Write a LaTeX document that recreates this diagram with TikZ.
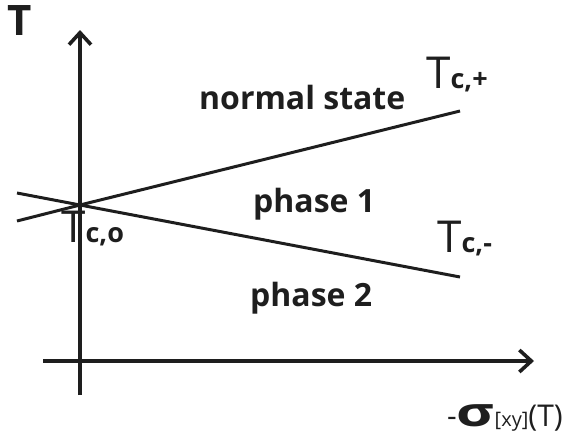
\documentclass[tikz,border=0pt]{standalone}
\usepackage{fontspec}
\setmainfont{Open Sans}
\usetikzlibrary{arrows.meta}
\definecolor{ink}{HTML}{1E1E1E}
\tikzset{
  axisline/.style={draw=ink, line width=3.6pt, -{Straight Barb[length=12pt,width=22pt,line width=3.6pt]}},
  phaseline/.style={draw=ink, line width=3pt},
  lbl/.style={inner sep=0pt, anchor=base west, text=ink},
}
\newcommand{\bigbold}{\fontsize{32}{32}\selectfont\bfseries}
\newcommand{\tcT}{\fontsize{44}{44}\selectfont}
\newcommand{\tcsub}{\fontsize{27}{27}\selectfont\bfseries}
\begin{document}
\begin{tikzpicture}[x=1pt,y=-1pt]
\useasboundingbox (0,0) rectangle (588,437);
% coordinates
\coordinate (o) at (80,205);
\coordinate (ybot) at (80,395);
\coordinate (ytop) at (80,30);
\coordinate (xl) at (43,361);
\coordinate (xr) at (534,361);
\coordinate (pl) at (17,221);
\coordinate (pr) at (460,111);
\coordinate (ml) at (17,193);
\coordinate (mr) at (460,277);
% phase boundaries
\draw[phaseline] (pl) -- (o) -- (pr);
\draw[phaseline] (ml) -- (o) -- (mr);
% axes
\draw[axisline] (ybot) -- (ytop);
\draw[axisline] (xl) -- (xr);
% labels
\node[lbl] (tlab) at (7,35) {\fontsize{42}{42}\selectfont\bfseries T};
\node[lbl] (normal) at (199,109) {\bigbold normal state};
\node[lbl] (ph1) at (253,212) {\bigbold phase 1};
\node[lbl] (ph2) at (250,306) {\bigbold phase 2};
\node[lbl] (tcp) at (426,88) {{\tcT T}{\tcsub c,+}};
\node[lbl] (tcm) at (437,252) {{\tcT T}{\tcsub c,-}};
\node[lbl] (tc0) at (61,242) {{\tcT T}{\tcsub c,o}};
\node[lbl] (sig) at (447,426) {{\fontsize{30}{30}\selectfont -}{\fontsize{40}{40}\selectfont\bfseries\scalebox{1.45}[1]{σ}}{\fontsize{20}{20}\selectfont [xy]}{\fontsize{30}{30}\selectfont (T)}};
\end{tikzpicture}
\end{document}
